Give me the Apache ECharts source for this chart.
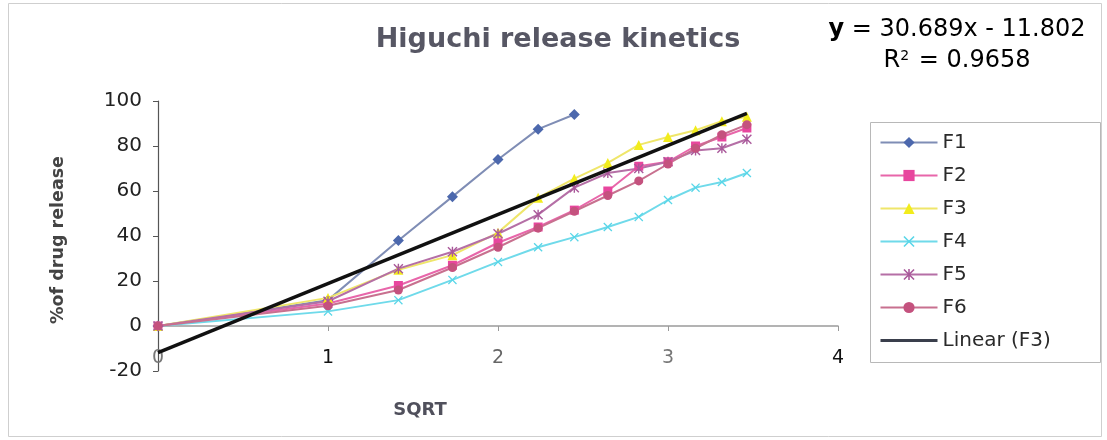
<!DOCTYPE html>
<html>
<head>
<meta charset="utf-8">
<script src="https://cdn.jsdelivr.net/npm/echarts@6/dist/echarts.min.js"></script>
<style>
  html, body { margin: 0; padding: 0; background: #fff; }
  #chart { width: 1107px; height: 440px; }
</style>
</head>
<body>
<div id="chart"></div>
<script>
// Square root of time (h^0.5)
const sqrtTime = [0, 1, 1.414, 1.732, 2, 2.236, 2.449, 2.646, 2.828, 3, 3.162, 3.317, 3.464];

// Cumulative % drug released per formulation
const F1 = [0, 11.5, 38, 57.5, 74, 87.5, 94];
const F2 = [0, 10, 18, 27, 37, 44, 51.5, 60, 71, 73, 80, 84, 88];
const F3 = [0, 12.5, 25, 31.5, 41.5, 57, 65.5, 72.5, 80.5, 84, 87, 91, 93];
const F4 = [0, 6.5, 11.5, 20.5, 28.5, 35, 39.5, 44, 48.5, 56, 61.5, 64, 68];
const F5 = [0, 11, 25.5, 33, 41, 49.5, 61.5, 68, 70, 73, 78, 79, 83];
const F6 = [0, 9, 16, 26, 35, 43.5, 51, 58, 64.5, 72, 79, 85, 89.5];

// Linear fit of F3: y = 30.689x - 11.802
const fitSlope = 30.689;
const fitIntercept = -11.802;

const yTicks = { min: -20, max: 100, step: 20 };
const xTicks = { min: 0, max: 4, step: 1 };

function pairs(values) {
  return values.map((v, i) => [sqrtTime[i], v]);
}
const fitEnds = [sqrtTime[0], sqrtTime[sqrtTime.length - 1]];
const fitLine = fitEnds.map(x => [x, fitSlope * x + fitIntercept]);

const xMark = 'path://M0,1L1,0L5,4L9,0L10,1L6,5L10,9L9,10L5,6L1,10L0,9L4,5Z';
const starMark = 'path://M0,1L1,0L5,4L9,0L10,1L6,5L10,9L9,10L5,6L1,10L0,9L4,5ZM4.3,0L5.7,0L5.7,10L4.3,10Z';

const FONT = 'DejaVu Sans';
const xLabelColors = ['#777', '#111', '#666', '#777', '#111'];

const chart = echarts.init(document.getElementById('chart'), null, { renderer: 'canvas' });

function lineSeries(name, data, symbol, size, color, lineColor) {
  return {
    name: name,
    type: 'line',
    data: pairs(data),
    symbol: symbol,
    symbolSize: size,
    showSymbol: true,
    smooth: false,
    itemStyle: { color: color },
    lineStyle: { color: lineColor, width: 2 },
    emphasis: { disabled: true },
    animation: false,
    z: 3
  };
}

chart.setOption({
  animation: false,
  backgroundColor: '#fff',
  grid: { left: 158, right: 269, top: 101, bottom: 69, containLabel: false },
  xAxis: {
    type: 'value',
    min: xTicks.min, max: xTicks.max, interval: xTicks.step,
    axisLine: { onZero: true, lineStyle: { color: '#9a9a9a', width: 1.5 } },
    axisTick: { show: true, length: 5, lineStyle: { color: '#9a9a9a' } },
    splitLine: { show: false },
    axisLabel: {
      margin: -22, fontFamily: FONT, fontSize: 19,
      color: (v, i) => xLabelColors[i] || '#222'
    }
  },
  yAxis: {
    type: 'value',
    min: yTicks.min, max: yTicks.max, interval: yTicks.step,
    axisLine: { show: true, onZero: false, lineStyle: { color: '#555', width: 1.2 } },
    axisTick: { show: true, length: 5, lineStyle: { color: '#555' } },
    splitLine: { show: false },
    axisLabel: { margin: 16, fontFamily: FONT, fontSize: 20, color: '#222' }
  },
  legend: {
    orient: 'vertical',
    left: 879, top: 131,
    itemWidth: 57, itemHeight: 14,
    itemGap: 10,
    padding: 0,
    textStyle: { fontFamily: FONT, fontSize: 20, color: '#2a2a2a', lineHeight: 23 },
    data: ['F1', 'F2', 'F3', 'F4', 'F5', 'F6',
      { name: 'Linear (F3)', itemStyle: { opacity: 0 }, lineStyle: { color: '#3a3f4c', width: 3 } }]
  },
  graphic: [
    { type: 'rect', silent: true, z: -1,
      shape: { x: 8.5, y: 3.5, width: 1093, height: 433 },
      style: { fill: 'none', stroke: '#cfcfcf', lineWidth: 1 } },
    { type: 'rect', silent: true,
      shape: { x: 870.5, y: 122.5, width: 230, height: 240 },
      style: { fill: 'none', stroke: '#b8b8b8', lineWidth: 1 } },
    { type: 'text', x: 558, y: 40, silent: true,
      style: { text: 'Higuchi release kinetics', fontFamily: FONT, fontWeight: 'bold',
               fontSize: 27, fill: '#575764', align: 'center', verticalAlign: 'middle' } },
    { type: 'text', x: 957, y: 30, silent: true,
      style: { text: '{v|y}{b| = 30.689x - 11.802}', align: 'center', verticalAlign: 'middle',
               rich: {
                 v: { fontFamily: FONT, fontSize: 24, fontWeight: 'bold', color: '#222' },
                 b: { fontFamily: FONT, fontSize: 24, color: '#333' }
               } } },
    { type: 'text', x: 957, y: 61, silent: true,
      style: { text: '{b|R}{s|2}{b| = 0.9658}', align: 'center', verticalAlign: 'middle',
               rich: {
                 b: { fontFamily: FONT, fontSize: 24, color: '#333' },
                 s: { fontFamily: FONT, fontSize: 14, color: '#333', verticalAlign: 'top', padding: [0, 2, 10, 0] }
               } } },
    { type: 'text', x: 58, y: 240, rotation: Math.PI / 2, silent: true,
      style: { text: '%of drug release', fontFamily: FONT, fontWeight: 'bold', fontSize: 17.5,
               fill: '#444', align: 'center', verticalAlign: 'middle' } },
    { type: 'text', x: 420, y: 410, silent: true,
      style: { text: 'SQRT', fontFamily: FONT, fontWeight: 'bold', fontSize: 18,
               fill: '#50505c', align: 'center', verticalAlign: 'middle' } }
  ],
  series: [
    lineSeries('F1', F1, 'diamond', 11, '#4c68ad', '#7f8db5'),
    lineSeries('F2', F2, 'rect', 9, '#e8469e', '#e866aa'),
    lineSeries('F3', F3, 'triangle', 10, '#f2ec1c', '#efe66a'),
    lineSeries('F4', F4, xMark, 9, '#58d6e8', '#6fdaea'),
    lineSeries('F5', F5, starMark, 10, '#a9589a', '#b56fa6'),
    lineSeries('F6', F6, 'circle', 9, '#c4527e', '#c8708f'),
    {
      name: 'Linear (F3)',
      type: 'line',
      data: fitLine,
      symbol: 'none',
      lineStyle: { color: '#111', width: 3.5 },
      itemStyle: { color: '#3a3f4c' },
      emphasis: { disabled: true },
      animation: false,
      z: 5
    }
  ]
});
</script>
</body>
</html>
